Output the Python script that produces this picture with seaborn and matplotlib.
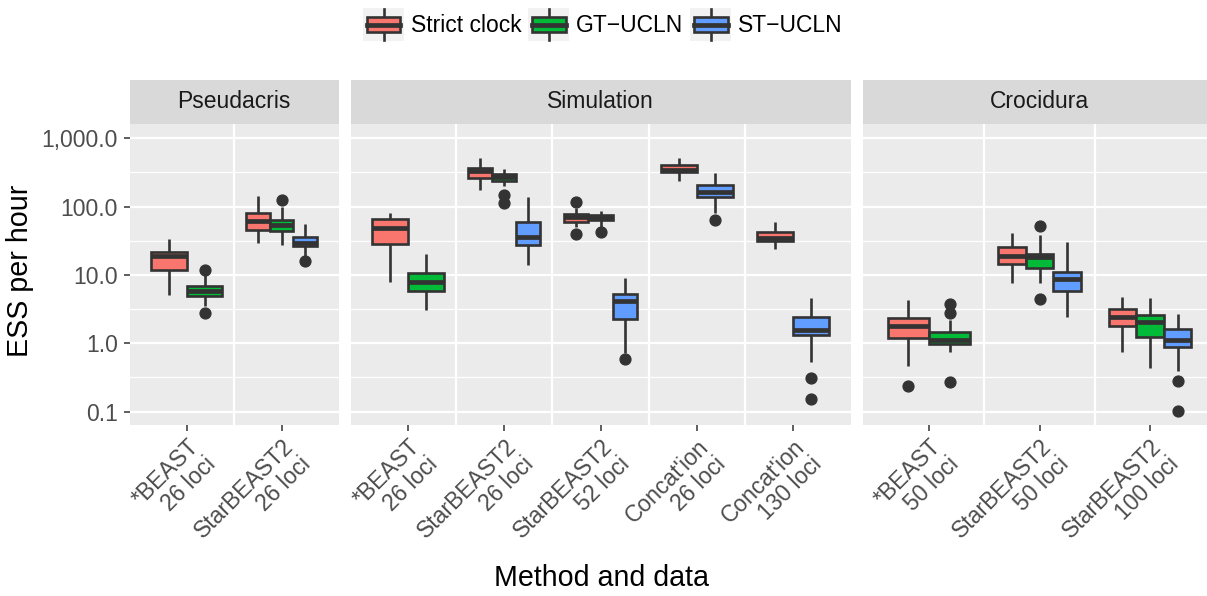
import numpy as np
import pandas as pd
import matplotlib
matplotlib.use("Agg")
import matplotlib.pyplot as plt
import seaborn as sns
from matplotlib.ticker import FixedLocator, FixedFormatter, NullFormatter
from matplotlib.patches import Rectangle
from matplotlib.lines import Line2D
from matplotlib.legend_handler import HandlerBase

# ---------------- data ----------------
panels = ["Pseudacris", "Simulation", "Crocidura"]
pseudacris_methods = ["*BEAST\n26 loci", "StarBEAST2\n26 loci"]
simulation_methods = ["*BEAST\n26 loci", "StarBEAST2\n26 loci", "StarBEAST2\n52 loci",
                      "Concat'ion\n26 loci", "Concat'ion\n130 loci"]
crocidura_methods = ["*BEAST\n50 loci", "StarBEAST2\n50 loci", "StarBEAST2\n100 loci"]
clocks = ["Strict clock", "GT\u2212UCLN", "ST\u2212UCLN"]
clock_colors = ["#F8766D", "#00BA38", "#619CFF"]
y_tick_values = [0.1, 1, 10, 100, 1000]
y_tick_labels = ["0.1", "1.0", "10.0", "100.0", "1,000.0"]

# box summaries (ESS per hour): whisker low, Q1, median, Q3, whisker high, outliers
box_panel = ["Pseudacris"] * 5 + ["Simulation"] * 12 + ["Crocidura"] * 8
box_method = [
    "*BEAST\n26 loci", "*BEAST\n26 loci",
    "StarBEAST2\n26 loci", "StarBEAST2\n26 loci", "StarBEAST2\n26 loci",
    "*BEAST\n26 loci", "*BEAST\n26 loci",
    "StarBEAST2\n26 loci", "StarBEAST2\n26 loci", "StarBEAST2\n26 loci",
    "StarBEAST2\n52 loci", "StarBEAST2\n52 loci", "StarBEAST2\n52 loci",
    "Concat'ion\n26 loci", "Concat'ion\n26 loci",
    "Concat'ion\n130 loci", "Concat'ion\n130 loci",
    "*BEAST\n50 loci", "*BEAST\n50 loci",
    "StarBEAST2\n50 loci", "StarBEAST2\n50 loci", "StarBEAST2\n50 loci",
    "StarBEAST2\n100 loci", "StarBEAST2\n100 loci", "StarBEAST2\n100 loci",
]
S, G, T = clocks
box_clock = [S, G, S, G, T,
             S, G, S, G, T, S, G, T, S, T, S, T,
             S, G, S, G, T, S, G, T]
box_low = [5.09, 3.55, 29.4, 27.8, 19.2,
           7.98, 3.08, 175, 203, 14.0, 49.9, 50.9, 0.714, 240, 79.8, 24.0, 0.527,
           0.466, 0.753, 7.73, 7.73, 2.45, 0.738, 0.44, 0.394]
box_q1 = [11.8, 4.88, 45.1, 43.6, 26.3,
          28.4, 5.9, 259, 240, 27.4, 60.3, 63.1, 2.27, 318, 140, 31.8, 1.32,
          1.21, 0.966, 14.5, 12.5, 5.84, 1.77, 1.24, 0.893]
box_median = [19.2, 5.77, 61.0, 54.6, 29.4,
              48.2, 7.98, 336, 268, 35.6, 69.8, 68.2, 4.21, 344, 166, 35.2, 1.57,
              1.79, 1.12, 19.2, 18.5, 8.73, 2.4, 2.03, 1.12]
box_q3 = [21.9, 6.9, 81.6, 63.8, 35.6,
          65.3, 10.8, 363, 297, 60.2, 77.3, 75.5, 5.21, 407, 208, 43.1, 2.46,
          2.32, 1.46, 25.7, 20.0, 11.2, 3.15, 2.6, 1.6]
box_high = [33.7, 10.0, 145, 100, 55.7,
            81.6, 20.3, 509, 356, 137, 96.6, 87.3, 8.93, 521, 315, 59.0, 4.66,
            4.3, 2.19, 40.7, 38.5, 30.8, 4.82, 4.66, 2.65]
box_outliers = [[], [2.75, 11.8], [], [125], [15.8],
                [], [], [], [114, 148], [], [39.8, 116], [42.1], [0.59], [], [63.8], [], [0.155, 0.315],
                [0.238], [0.274, 2.81, 3.76], [], [4.46, 52.7], [], [], [], [0.104, 0.285]]


def box_sample(low, q1, med, q3, high, outliers):
    """13 values whose quartiles / whiskers / outliers are the read summaries."""
    lo_out = sorted(o for o in outliers if o < q1)
    hi_out = sorted(o for o in outliers if o > q3)
    lower = lo_out + [low] * (3 - len(lo_out))
    upper = [high] * (3 - len(hi_out)) + hi_out
    return lower + [q1, q1, med, med, med, q3, q3] + upper


def whisker_reach(low, q1, q3, high, outliers):
    lq1, lq3 = np.log10(q1), np.log10(q3)
    iqr = lq3 - lq1
    inside = max((lq1 - np.log10(low)) / iqr, (np.log10(high) - lq3) / iqr)
    dists = [(lq1 - np.log10(o)) / iqr if o < q1 else (np.log10(o) - lq3) / iqr
             for o in outliers]
    if dists:
        return (inside + min(dists)) / 2
    return inside + 1.0


# ---------------- styling ----------------
plt.rcParams["font.family"] = ["Liberation Sans", "DejaVu Sans"]
DARK = "#333333"
TICK_FS = 16.5
TITLE_FS = 20.6
LW = 1.9
MED_LW = 3.4
W, H = 1207, 596

fig = plt.figure(figsize=(W / 100, H / 100), dpi=100)
fig.patch.set_facecolor("white")

panel_top, panel_bottom = 124, 425
strip_top = 80
panel_x = [(130.0, 338.5), (350.5, 850.5), (862.7, 1216.3)]
panel_methods = [pseudacris_methods, simulation_methods, crocidura_methods]
palette = dict(zip(clocks, clock_colors))

axes = []
for i, (x0, x1) in enumerate(panel_x):
    rect = [x0 / W, 1 - panel_bottom / H, (x1 - x0) / W, (panel_bottom - panel_top) / H]
    ax = fig.add_axes(rect, sharey=axes[0] if axes else None)
    axes.append(ax)

for ax, panel, methods in zip(axes, panels, panel_methods):
    ax.set_facecolor("#EBEBEB")
    for m in methods:
        idxs = [k for k in range(len(box_panel)) if box_panel[k] == panel and box_method[k] == m]
        present = [c for c in clocks if any(box_clock[k] == c for k in idxs)]
        for k in idxs:
            c = box_clock[k]
            sample = box_sample(box_low[k], box_q1[k], box_median[k], box_q3[k],
                                box_high[k], box_outliers[k])
            df = pd.DataFrame({"method": m, "clock": c, "ess": sample})
            w = whisker_reach(box_low[k], box_q1[k], box_q3[k], box_high[k], box_outliers[k])
            sns.boxplot(data=df, x="method", y="ess", hue="clock", order=methods,
                        hue_order=present, palette={p: palette[p] for p in present},
                        saturation=1, width=0.75, dodge=True, whis=w, log_scale=True,
                        linecolor=DARK, linewidth=LW, showcaps=False,
                        medianprops=dict(linewidth=MED_LW, color=DARK),
                        flierprops=dict(marker="o", markerfacecolor=DARK,
                                        markeredgecolor=DARK, markersize=7.8),
                        legend=False, ax=ax)
    ax.set_xlim(-0.6, len(methods) - 0.4)
    ax.set_xlabel("")
    ax.set_ylabel("")
    for sp in ax.spines.values():
        sp.set_visible(False)
    ax.set_axisbelow(True)

axes[0].set_yscale("log")
axes[0].set_ylim(10 ** -1.195, 10 ** 3.209)
axes[0].yaxis.set_major_locator(FixedLocator(y_tick_values))
axes[0].yaxis.set_major_formatter(FixedFormatter(y_tick_labels))
axes[0].yaxis.set_minor_locator(FixedLocator([10 ** (k + 0.5) for k in range(-2, 4)]))
axes[0].yaxis.set_minor_formatter(NullFormatter())

for i, (ax, methods) in enumerate(zip(axes, panel_methods)):
    ax.grid(False)
    ax.set_xticks(range(len(methods)))
    ax.set_xticklabels(methods, rotation=45, ha="right", va="top",
                       rotation_mode="anchor", multialignment="right",
                       fontsize=TICK_FS, color="#4D4D4D", linespacing=1.1)
    ax.xaxis.set_minor_locator(FixedLocator([k + 0.5 for k in range(len(methods) - 1)]))
    ax.tick_params(axis="x", which="major", length=4.3, width=1.1, color=DARK, pad=3)
    ax.tick_params(axis="x", which="minor", length=0)
    ax.grid(which="minor", axis="x", color="white", linewidth=1.6)
    ax.grid(which="major", axis="y", color="white", linewidth=1.6)
    ax.grid(which="minor", axis="y", color="white", linewidth=0.9)
    ax.grid(which="major", axis="x", visible=False)
    ax.tick_params(axis="y", which="minor", length=0)
    if i == 0:
        ax.tick_params(axis="y", which="major", length=4.3, width=1.1, color=DARK,
                       labelsize=TICK_FS, labelcolor="#4D4D4D", pad=4.3)
    else:
        ax.tick_params(axis="y", which="both", left=False, labelleft=False)

# facet strips
for (x0, x1), panel in zip(panel_x, panels):
    sax = fig.add_axes([x0 / W, 1 - panel_top / H, (x1 - x0) / W, (panel_top - strip_top) / H])
    sax.set_facecolor("#D9D9D9")
    sax.set_xticks([])
    sax.set_yticks([])
    for sp in sax.spines.values():
        sp.set_visible(False)
    sax.text(0.5, 0.5, panel, ha="center", va="center", fontsize=TICK_FS,
             color="#1A1A1A", transform=sax.transAxes)

# axis titles
fig.text(20 / W, 1 - 271 / H, "ESS per hour", rotation=90, ha="center", va="center",
         fontsize=TITLE_FS, color="black")
fig.text(601 / W, 1 - 578 / H, "Method and data", ha="center", va="center",
         fontsize=TITLE_FS, color="black")


# legend with boxplot keys
class BoxKeyHandler(HandlerBase):
    def create_artists(self, legend, orig_handle, xdescent, ydescent, width, height,
                       fontsize, trans):
        fill = orig_handle.get_facecolor()
        x0, y0 = -xdescent, -ydescent
        bg = Rectangle((x0, y0), width, height, facecolor="#F2F2F2", edgecolor="none",
                       transform=trans)
        bx, bw = x0 + 0.09 * width, 0.82 * width
        by, bh = y0 + 0.27 * height, 0.46 * height
        xm = x0 + width / 2
        w1 = Line2D([xm, xm], [y0 + 0.03 * height, by], color=DARK, lw=LW, transform=trans)
        w2 = Line2D([xm, xm], [by + bh, y0 + 0.97 * height], color=DARK, lw=LW, transform=trans)
        box = Rectangle((bx, by), bw, bh, facecolor=fill, edgecolor=DARK, linewidth=LW,
                        transform=trans)
        med = Line2D([bx, bx + bw], [by + bh / 2] * 2, color=DARK, lw=MED_LW, transform=trans)
        return [bg, w1, w2, box, med]


handles = [Rectangle((0, 0), 1, 1, facecolor=c) for c in clock_colors]
fig.legend(handles, clocks, handler_map={Rectangle: BoxKeyHandler()}, loc="center",
           bbox_to_anchor=(603 / W, 1 - 24.5 / H), ncol=3, frameon=False,
           handlelength=1.79, handleheight=1.79, handletextpad=0.3, columnspacing=0.3,
           fontsize=TICK_FS, borderpad=0, borderaxespad=0)

fig.savefig("out.png", dpi=100)
